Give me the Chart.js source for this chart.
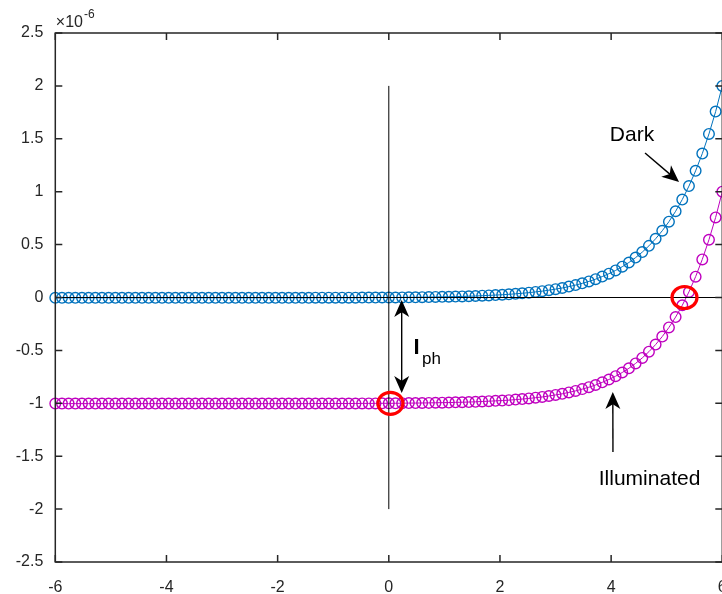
<!DOCTYPE html>
<html><head><meta charset="utf-8">
<script src="https://cdn.jsdelivr.net/npm/chart.js@4.4.0/dist/chart.umd.min.js"></script>
<style>
html,body{margin:0;padding:0;overflow:hidden;background:#fff;width:722px;height:594px;}
#c{position:absolute;left:0;top:0;width:724px;height:594px;display:block;}
</style></head><body>
<canvas id="c" width="724" height="594"></canvas>
<script>
// Voltage (V)
const voltage = [-6.00,-5.88,-5.76,-5.64,-5.52,-5.40,-5.28,-5.16,-5.04,-4.92,-4.80,-4.68,-4.56,-4.44,-4.32,-4.20,-4.08,-3.96,-3.84,-3.72,-3.60,-3.48,-3.36,-3.24,-3.12,-3.00,-2.88,-2.76,-2.64,-2.52,-2.40,-2.28,-2.16,-2.04,-1.92,-1.80,-1.68,-1.56,-1.44,-1.32,-1.20,-1.08,-0.96,-0.84,-0.72,-0.60,-0.48,-0.36,-0.24,-0.12,0.00,0.12,0.24,0.36,0.48,0.60,0.72,0.84,0.96,1.08,1.20,1.32,1.44,1.56,1.68,1.80,1.92,2.04,2.16,2.28,2.40,2.52,2.64,2.76,2.88,3.00,3.12,3.24,3.36,3.48,3.60,3.72,3.84,3.96,4.08,4.20,4.32,4.44,4.56,4.68,4.80,4.92,5.04,5.16,5.28,5.40,5.52,5.64,5.76,5.88,6.00];
// Dark current (x 1e-6 A)
const darkCurrent = [-0.003,-0.003,-0.003,-0.003,-0.003,-0.003,-0.003,-0.003,-0.003,-0.003,-0.003,-0.003,-0.003,-0.003,-0.003,-0.003,-0.003,-0.003,-0.003,-0.003,-0.003,-0.003,-0.003,-0.003,-0.003,-0.003,-0.003,-0.003,-0.003,-0.003,-0.003,-0.003,-0.003,-0.003,-0.003,-0.003,-0.003,-0.003,-0.003,-0.002,-0.002,-0.002,-0.002,-0.002,-0.002,-0.002,-0.001,-0.001,-0.001,0.000,0.000,0.000,0.001,0.002,0.002,0.003,0.004,0.005,0.006,0.007,0.009,0.010,0.012,0.014,0.017,0.020,0.023,0.026,0.030,0.035,0.040,0.046,0.053,0.060,0.069,0.079,0.090,0.103,0.117,0.134,0.152,0.173,0.198,0.225,0.256,0.291,0.331,0.377,0.429,0.488,0.555,0.631,0.717,0.815,0.926,1.053,1.197,1.360,1.546,1.757,2.000];
// Illuminated current (x 1e-6 A)
const illuminatedCurrent = [-1.003,-1.003,-1.003,-1.003,-1.003,-1.003,-1.003,-1.003,-1.003,-1.003,-1.003,-1.003,-1.003,-1.003,-1.003,-1.003,-1.003,-1.003,-1.003,-1.003,-1.003,-1.003,-1.003,-1.003,-1.003,-1.003,-1.003,-1.003,-1.003,-1.003,-1.003,-1.003,-1.003,-1.003,-1.003,-1.003,-1.003,-1.003,-1.003,-1.002,-1.002,-1.002,-1.002,-1.002,-1.002,-1.002,-1.001,-1.001,-1.001,-1.000,-1.000,-1.000,-0.999,-0.998,-0.998,-0.997,-0.996,-0.995,-0.994,-0.993,-0.991,-0.990,-0.988,-0.986,-0.983,-0.980,-0.977,-0.974,-0.970,-0.965,-0.960,-0.954,-0.947,-0.940,-0.931,-0.921,-0.910,-0.897,-0.883,-0.866,-0.848,-0.827,-0.802,-0.775,-0.744,-0.709,-0.669,-0.623,-0.571,-0.512,-0.445,-0.369,-0.283,-0.185,-0.074,0.053,0.197,0.360,0.546,0.757,1.000];
const xTickValues = [-6,-4,-2,0,2,4,6];
const xTickLabels = ['-6','-4','-2','0','2','4','6'];
const yTickValues = [-2.5,-2,-1.5,-1,-0.5,0,0.5,1,1.5,2,2.5];
const yTickLabels = ['-2.5','-2','-1.5','-1','-0.5','0','0.5','1','1.5','2','2.5'];
const exponentBase = '\u00d710';
const exponentPower = '-6';
const markedPoints = [[0.03,-1],[5.32,0]];

const FONT = '"Liberation Sans", Arial, Helvetica, sans-serif';
const AX = '#262626';

function arrowHead(ctx, tx, ty, ux, uy, len, hw){
  const bx = tx - ux*len, by = ty - uy*len;
  const nx = -uy, ny = ux;
  const mx = tx - ux*len*0.72, my = ty - uy*len*0.72;
  ctx.beginPath();
  ctx.moveTo(tx,ty);
  ctx.lineTo(bx+nx*hw, by+ny*hw);
  ctx.lineTo(mx,my);
  ctx.lineTo(bx-nx*hw, by-ny*hw);
  ctx.closePath();
  ctx.fill();
}
function arrow(ctx, x1,y1,x2,y2, both){
  const dx=x2-x1, dy=y2-y1, L=Math.hypot(dx,dy), ux=dx/L, uy=dy/L;
  const len=17, hw=7.5;
  ctx.beginPath();
  ctx.moveTo(both? x1+ux*len*0.6 : x1, both? y1+uy*len*0.6 : y1);
  ctx.lineTo(x2-ux*len*0.6, y2-uy*len*0.6);
  ctx.stroke();
  arrowHead(ctx,x2,y2,ux,uy,len,hw);
  if(both) arrowHead(ctx,x1,y1,-ux,-uy,len,hw);
}

const annot = {
  id:'annot',
  afterDatasetsDraw(chart){
    const {ctx, scales:{x,y}} = chart;
    const px=v=>x.getPixelForValue(v), py=v=>y.getPixelForValue(v);
    ctx.save();
    ctx.strokeStyle='#000'; ctx.fillStyle='#000'; ctx.lineWidth=1;
    ctx.beginPath();
    ctx.moveTo(px(0), py(2)); ctx.lineTo(px(0), py(-2));
    ctx.moveTo(px(-6), py(0)); ctx.lineTo(px(6), py(0));
    ctx.stroke();
    ctx.strokeStyle='#FF0000'; ctx.lineWidth=3.2;
    markedPoints.forEach(p=>{
      ctx.beginPath();
      ctx.ellipse(px(p[0]), py(p[1]), 12.5, 11, 0, 0, Math.PI*2);
      ctx.stroke();
    });
    ctx.strokeStyle='#000'; ctx.fillStyle='#000'; ctx.lineWidth=1.4;
    arrow(ctx, px(4.61), py(1.366), px(5.222), py(1.092), false);
    arrow(ctx, px(4.033), py(-1.46), px(4.03), py(-0.893), false);
    arrow(ctx, px(0.232), py(-0.024), px(0.232), py(-0.903), true);
    ctx.fillStyle='#000';
    ctx.textAlign='center'; ctx.textBaseline='middle';
    ctx.font='21px '+FONT;
    ctx.fillText('Dark', px(4.376), py(1.531));
    ctx.fillText('Illuminated', px(4.691), py(-1.72));
    ctx.textAlign='left'; ctx.textBaseline='alphabetic';
    ctx.font='bold 22px '+FONT;
    ctx.fillText('I', px(0.445), py(-0.534));
    ctx.font='17px '+FONT;
    ctx.fillText('ph', px(0.598), py(-0.629));
    ctx.restore();
  },
  afterDraw(chart){
    const {ctx, chartArea:a, scales:{x,y}} = chart;
    ctx.save();
    ctx.strokeStyle=AX; ctx.lineWidth=1.5;
    ctx.strokeRect(a.left, a.top, a.right-a.left, a.bottom-a.top);
    ctx.beginPath();
    const tl=7;
    xTickValues.forEach(v=>{
      const p=x.getPixelForValue(v);
      ctx.moveTo(p,a.bottom); ctx.lineTo(p,a.bottom-tl);
      ctx.moveTo(p,a.top); ctx.lineTo(p,a.top+tl);
    });
    yTickValues.forEach(v=>{
      const p=y.getPixelForValue(v);
      ctx.moveTo(a.left,p); ctx.lineTo(a.left+tl,p);
      ctx.moveTo(a.right,p); ctx.lineTo(a.right-tl,p);
    });
    ctx.stroke();
    ctx.fillStyle=AX; ctx.textAlign='left'; ctx.textBaseline='alphabetic';
    ctx.font='16px '+FONT;
    ctx.fillText(exponentBase, a.left+0.5, a.top-6);
    const w=ctx.measureText(exponentBase).width;
    ctx.font='12px '+FONT;
    ctx.fillText(exponentPower, a.left+0.5+w+1, a.top-15);
    ctx.restore();
  }
};

const series = (vals)=>voltage.map((v,i)=>({x:v,y:vals[i]}));
const ds = (label, vals, color)=>({
  label, data: series(vals), showLine:true, borderColor:color, borderWidth:1,
  pointRadius:5.3, pointBorderWidth:1.4, pointBorderColor:color,
  pointBackgroundColor:'rgba(0,0,0,0)', pointStyle:'circle', tension:0, clip:false
});

new Chart(document.getElementById('c'), {
  type:'scatter',
  data:{ datasets:[ ds('Dark', darkCurrent, '#0072BD'), ds('Illuminated', illuminatedCurrent, '#BF00BF') ] },
  options:{
    responsive:false, maintainAspectRatio:false, animation:false, events:[], devicePixelRatio:1,
    layout:{ autoPadding:false, padding:{left:0, top:33, right:1.7, bottom:0} },
    plugins:{ legend:{display:false}, tooltip:{enabled:false} },
    scales:{
      x:{ type:'linear', min:-6, max:6,
        afterBuildTicks:s=>{ s.ticks = xTickValues.map(v=>({value:v})); },
        afterFit:s=>{ s.height=32; s.paddingLeft=0; s.paddingRight=0; s.paddingTop=0; s.paddingBottom=0; },
        grid:{display:false, drawTicks:false}, border:{display:false},
        ticks:{ padding:16, color:AX, font:{family:FONT, size:16}, maxRotation:0, autoSkip:false,
          callback:(v,i)=>xTickLabels[i] } },
      y:{ type:'linear', min:-2.5, max:2.5,
        afterBuildTicks:s=>{ s.ticks = yTickValues.map(v=>({value:v})); },
        afterFit:s=>{ s.width=55.3; s.paddingLeft=0; s.paddingRight=0; s.paddingTop=0; s.paddingBottom=0; },
        grid:{display:false, drawTicks:false}, border:{display:false},
        ticks:{ padding:12, color:AX, font:{family:FONT, size:16}, autoSkip:false,
          callback:(v,i)=>yTickLabels[i] } }
    }
  },
  plugins:[annot]
});
</script>
</body></html>
